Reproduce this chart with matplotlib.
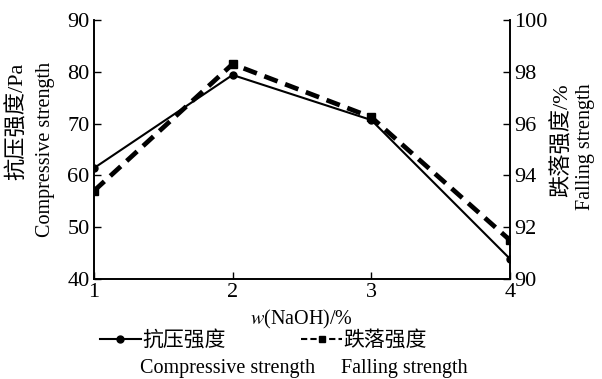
import matplotlib
matplotlib.use("Agg")
import matplotlib.pyplot as plt
from matplotlib.lines import Line2D

plt.rcParams['font.family'] = ['Liberation Serif', 'Noto Sans CJK SC']
plt.rcParams['mathtext.fontset'] = 'stix'

naoh = [1, 2, 3, 4]
compressive = [61.4, 79.4, 70.7, 43.9]
falling = [93.4, 98.3, 96.25, 91.5]

fig = plt.figure(figsize=(6.02, 3.79), dpi=100)
ax = fig.add_axes([0.156, 0.264, 0.691, 0.683])
ax2 = ax.twinx()

ax.plot(naoh, compressive, '-', color='black', lw=1.5, marker='o', ms=5)
ax2.plot(naoh, falling, color='black', lw=3.4, ls=(0, (3, 1.7)), marker='s', ms=5.5)

ax.set_xlim(1, 4)
ax.set_ylim(40, 90)
ax2.set_ylim(90, 100)
ax.set_xticks(naoh)
ax.set_yticks(range(40, 91, 10))
ax2.set_yticks(range(90, 101, 2))

for a in (ax, ax2):
    a.spines['top'].set_visible(False)
    a.tick_params(direction='in', length=5, width=1, labelsize=16, pad=3)
    for s in a.spines.values():
        s.set_linewidth(1.2)
ax.tick_params(axis='x', pad=3)

ax.set_xlabel('$w$(NaOH)/%', fontsize=14.5, labelpad=4)

# two-line y labels, both lines flush at the top
fig.text(0.029, 0.836, '抗压强度/Pa', rotation=90, fontsize=16, ha='center', va='top')
fig.text(0.076, 0.836, 'Compressive strength', rotation=90, fontsize=14.5, ha='center', va='top')
fig.text(0.934, 0.78, '跌落强度/%', rotation=90, fontsize=16, ha='center', va='top')
fig.text(0.972, 0.78, 'Falling strength', rotation=90, fontsize=14.5, ha='center', va='top')

handles = [Line2D([], [], color='black', lw=1.5, marker='o', ms=5),
           Line2D([], [], color='black', lw=1.5, ls=(0, (3, 1.5)), marker='s', ms=4)]
fig.legend(handles, ['抗压强度', '跌落强度'], loc='center left', bbox_to_anchor=(0.148, 0.1),
           ncol=2, frameon=False, fontsize=15, handlelength=2.0, handletextpad=0.05,
           columnspacing=3.6, borderpad=0)
fig.text(0.232, 0.027, 'Compressive strength', fontsize=14.5, va='center')
fig.text(0.567, 0.027, 'Falling strength', fontsize=14.5, va='center')

fig.savefig('out.png', dpi=100)
